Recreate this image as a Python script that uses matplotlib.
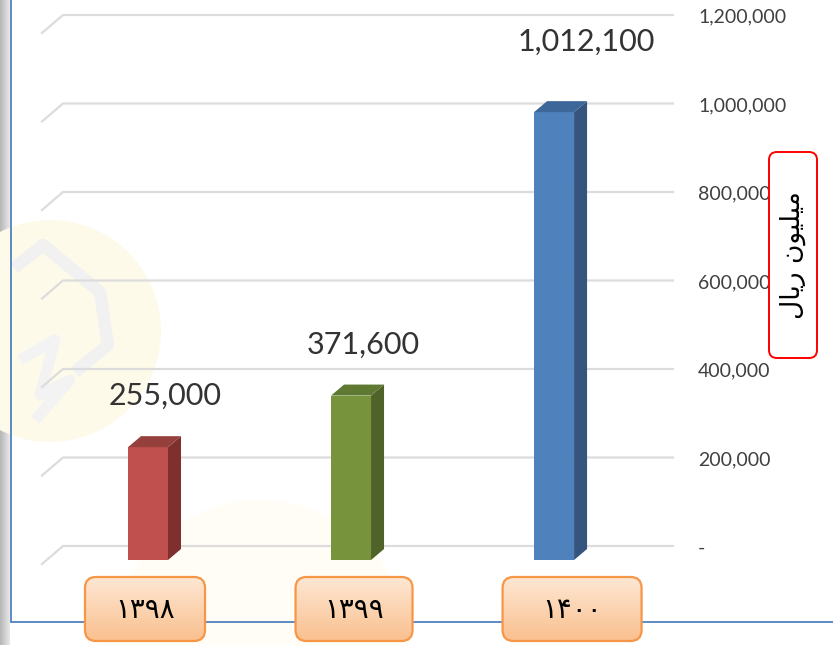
import matplotlib
matplotlib.use("Agg")
import numpy as np
import matplotlib.pyplot as plt
from matplotlib.patches import Polygon, FancyBboxPatch, Circle
from matplotlib.colors import LinearSegmentedColormap
from matplotlib.transforms import offset_copy

plt.rcParams['font.family'] = ['Lato', 'DejaVu Sans']

# data
years = ['۱۳۹۸', '۱۳۹۹', '۱۴۰۰']
values = [255000, 371600, 1012100]
y_ticks = [0, 200000, 400000, 600000, 800000, 1000000, 1200000]
# "میلیون ریال" written with presentation forms in visual order (no bidi shaping in matplotlib)
unit_label = '\uFEDD\uFE8E\uFEF3\uFEAD \uFEE5\uFEEE\uFEF4\uFEE0\uFEF4\uFEE3'

# styling
front_colors = ['#C0504D', '#77933C', '#4F81BD']
side_colors = ['#7F302E', '#4F6228', '#35547E']
top_colors = ['#96403D', '#5F7832', '#3D6699']
label_offsets = [(17, 51), (12, 51), (32, 70)]   # pixels from front-top centre
box_dx = [-3, 3, 18]
box_w = [120, 117, 139]

W, H, DPI = 833, 645, 100
BAR_W = 0.197
DEPTH = (13, 11)        # bar depth in pixels
BACK = (16, 14)         # back wall offset from the bar front plane
FLOOR_FRONT = (-5, -4)  # front edge of the floor

fig = plt.figure(figsize=(W / DPI, H / DPI), dpi=DPI)

# background layer: grey edge strip and faint watermark
bg = fig.add_axes([0, 0, 1, 1], zorder=0)
bg.axis('off')
strip = np.linspace(0.72, 0.9, 10).reshape(1, -1)
bg.imshow(strip, cmap='gray', vmin=0, vmax=1, extent=[0, 10, 0, H], aspect='auto')
bg.add_patch(Circle((50, H - 331), 111, color='#FEFAEA', lw=0))
bg.add_patch(Circle((260, H - 650), 150, color='#FFFDF5', lw=0))
bg.plot([14, 43, 100, 108, 75], [H - 268, H - 245, H - 292, H - 345, H - 372],
        color='#F1F1F1', lw=9, solid_capstyle='butt')
bg.plot([20, 55, 40, 70, 35], [H - 360, H - 340, H - 395, H - 380, H - 420],
        color='#F3F3F3', lw=8, solid_capstyle='butt')
bg.set_xlim(0, W)
bg.set_ylim(0, H)

# main axes: the front plane of the bars
ax = fig.add_axes([47 / W, 85 / H, 610 / W, 531 / H], zorder=1)
ax.set_xlim(-0.4975, 2.507)
ax.set_ylim(0, 1200000)
ax.patch.set_alpha(0)
ax.axis('off')

to_disp = ax.transData.transform
to_data = ax.transData.inverted().transform


def shifted(points, dx, dy):
    d = to_disp(np.asarray(points, dtype=float))
    d[:, 0] += dx
    d[:, 1] += dy
    return d


# back wall gridlines with the floor diagonals
x_left, x_right = ax.get_xlim()
for t in y_ticks:
    (px0, py), (px1, _) = to_disp([(x_left, t), (x_right, t)])
    xs = [px0 + FLOOR_FRONT[0], px0 + BACK[0], px1 + BACK[0]]
    ys = [py + FLOOR_FRONT[1], py + BACK[1], py + BACK[1]]
    pts = to_data(np.column_stack([xs, ys]))
    ax.plot(pts[:, 0], pts[:, 1], color='#DCDCDC', lw=1.6, zorder=1, clip_on=False)
    lab = '-' if t == 0 else f'{t:,}'
    ax.text(1.0, t, lab, transform=offset_copy(ax.get_yaxis_transform(), fig,
            x=41, y=BACK[1] - 2, units='dots'),
            ha='left', va='center', fontsize=14, color='#404040')

# 3D bars
for i, v in enumerate(values):
    ax.bar(i, v, width=BAR_W, color=front_colors[i], zorder=3)
    xl, xr = i - BAR_W / 2, i + BAR_W / 2
    side = np.vstack([to_disp([(xr, 0), (xr, v)]),
                      shifted([(xr, v), (xr, 0)], *DEPTH)])
    top = np.vstack([to_disp([(xl, v), (xr, v)]),
                     shifted([(xr, v), (xl, v)], *DEPTH)])
    ax.add_patch(Polygon(to_data(side), closed=True, color=side_colors[i], lw=0, zorder=3))
    ax.add_patch(Polygon(to_data(top), closed=True, color=top_colors[i], lw=0, zorder=3))
    ax.annotate(f'{v:,}', xy=(i, v), xytext=label_offsets[i], textcoords='offset pixels',
                ha='center', va='center', fontsize=22, color='#333333', zorder=4)

# foreground layer: frame, category boxes, unit label
fg = fig.add_axes([0, 0, 1, 1], zorder=2)
fg.patch.set_alpha(0)
fg.axis('off')
fg.plot([11, 11, W], [H, 23, 23], color='#4F81BD', lw=1.3, solid_joinstyle='miter')

box_cmap = LinearSegmentedColormap.from_list('peach', ['#FDE7D3', '#FAC08F'])
grad = np.linspace(0, 1, 64).reshape(-1, 1)
for i, year in enumerate(years):
    cx = to_disp([(i, 0)])[0, 0] + box_dx[i]
    x0, y0, bw, bh = cx - box_w[i] / 2, 4, box_w[i], 64
    patch = FancyBboxPatch((x0, y0), bw, bh, boxstyle='round,pad=0,rounding_size=11',
                           fc='none', ec='#F79646', lw=1.6, zorder=5)
    fg.add_patch(patch)
    img = fg.imshow(grad, cmap=box_cmap, extent=[x0, x0 + bw, y0, y0 + bh],
                    aspect='auto', zorder=4)
    img.set_clip_path(patch)
    fg.text(cx, y0 + bh / 2 - 1, year, ha='center', va='center', fontsize=20,
            family='DejaVu Sans', color='black', zorder=6)

fg.add_patch(FancyBboxPatch((769, H - 358), 48, 206, boxstyle='round,pad=0,rounding_size=8',
                            fc='white', ec='#FF0000', lw=1.4, zorder=5))
fg.text(793, H - 255, unit_label, rotation=90, ha='center', va='center', fontsize=19,
        family='DejaVu Sans', color='black', zorder=6)
fg.set_xlim(0, W)
fg.set_ylim(0, H)

fig.savefig('out.png', dpi=DPI)
